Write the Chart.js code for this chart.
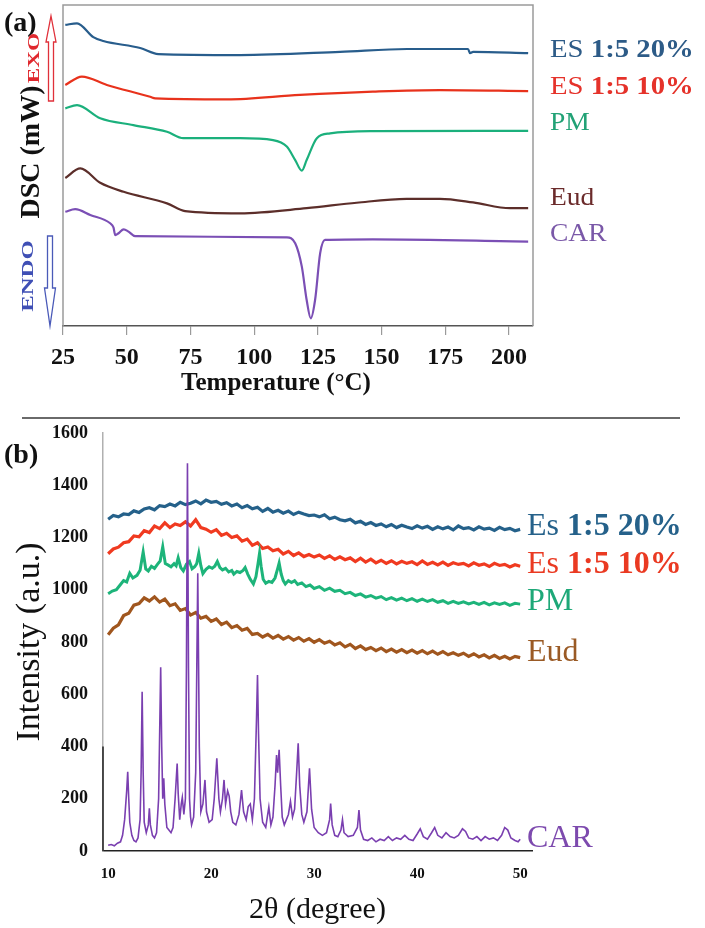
<!DOCTYPE html>
<html><head><meta charset="utf-8">
<script src="https://cdn.jsdelivr.net/npm/chart.js@4/dist/chart.umd.min.js"></script>
<style>
html,body{margin:0;padding:0;background:#fff;}
body{width:705px;height:928px;position:relative;overflow:hidden;font-family:'Liberation Serif','Times New Roman',serif;}
canvas{position:absolute;left:0;}
.t{position:absolute;white-space:nowrap;line-height:1;font-family:'Liberation Serif','Times New Roman',serif;}
.lab{transform-origin:left center;}
</style></head><body>
<canvas id="dsc" width="705" height="418" style="top:0"></canvas>
<canvas id="xrd" width="705" height="508" style="top:420px"></canvas>

<div class="t" style="left:4px;top:8px;font-size:28px;font-weight:bold;color:#111">(a)</div>
<div class="t" style="left:4px;top:440px;font-size:28px;font-weight:bold;color:#111">(b)</div>
<div class="t" style="left:30px;top:152px;font-size:28px;font-weight:bold;color:#111;transform:translate(-50%,-50%) rotate(-90deg)">DSC (mW)</div>
<div class="t" style="left:34px;top:58px;font-size:16px;font-weight:bold;color:#e0282e;transform:translate(-50%,-50%) rotate(-90deg) scaleX(1.45)">EXO</div>
<div class="t" style="left:28px;top:276px;font-size:16px;font-weight:bold;color:#3f4fb5;transform:translate(-50%,-50%) rotate(-90deg) scaleX(1.55)">ENDO</div>
<div class="t" style="left:276px;top:381px;font-size:25px;font-weight:bold;color:#111;transform:translate(-50%,-50%)">Temperature (°C)</div>

<div class="t lab" style="left:550px;top:36px;font-size:25px;color:#2d5b87;transform:scaleX(1.15)">ES <b>1:5 20%</b></div>
<div class="t lab" style="left:550px;top:73px;font-size:25px;color:#e5322a;transform:scaleX(1.15)">ES <b>1:5 10%</b></div>
<div class="t lab" style="left:550px;top:109px;font-size:25px;color:#22a276;transform:scaleX(1.1)">PM</div>
<div class="t lab" style="left:550px;top:184px;font-size:25px;color:#6b2b2b;transform:scaleX(1.1)">Eud</div>
<div class="t lab" style="left:550px;top:220px;font-size:25px;color:#7a58a8;transform:scaleX(1.1)">CAR</div>

<div style="position:absolute;left:22px;top:417px;width:658px;height:2px;background:#6a6a6a"></div>

<div class="t" style="left:527px;top:508px;font-size:32px;color:#25618a">Es <b>1:5 20%</b></div>
<div class="t" style="left:527px;top:546px;font-size:32px;color:#ea3a22">Es <b>1:5 10%</b></div>
<div class="t" style="left:527px;top:583px;font-size:32px;color:#1ea878">PM</div>
<div class="t" style="left:527px;top:634px;font-size:32px;color:#9a5a25">Eud</div>
<div class="t" style="left:527px;top:820px;font-size:32px;color:#7d4aae">CAR</div>

<script>
// ---------- (a) DSC data ----------
const DSC_TICKS = [25, 50, 75, 100, 125, 150, 175, 200];
const DSC_ES20_T = [25.9,30.5,36.9,40.8,55.3,62.4,94.5,133.7,160.0,183.9,184.7,185.9,207.5];
const DSC_ES20_V = [93.8,94.3,90.0,88.8,86.6,84.7,84.4,85.4,86.3,86.3,85.0,85.4,85.0];
const DSC_ES10_T = [25.9,32.4,42.2,59.2,61.2,89.3,118.0,146.6,172.9,207.5];
const DSC_ES10_V = [75.1,77.7,75.1,71.4,70.9,70.6,72.0,73.0,73.5,73.2];
const DSC_PM_T = [25.9,30.5,39.6,52.6,65.8,72.2,94.5,107.4,112.8,116.1,118.7,120.6,124.6,129.8,146.6,207.5];
const DSC_PM_V = [67.8,68.8,64.7,62.6,60.5,58.5,58.5,57.9,55.9,51.7,48.4,51.7,58.5,60.0,60.7,60.8];
const DSC_EUD_T = [25.9,31.8,39.6,48.8,65.8,72.9,94.5,120.6,140.2,159.8,172.9,185.9,200.4,207.5];
const DSC_EUD_V = [46.1,49.1,44.6,41.8,38.2,35.8,35.1,36.7,38.4,39.6,39.6,38.5,36.7,36.7];
const DSC_CAR_T = [25.9,29.8,35.7,43.5,44.8,45.5,46.8,48.8,50.7,53.3,112.8,116.1,118.7,120.6,122.2,123.9,125.9,127.8,146.6,207.5];
const DSC_CAR_V = [35.6,36.4,34.6,32.0,30.7,28.3,28.9,30.1,29.4,28.0,27.6,25.8,18.5,8.1,2.4,8.1,22.7,26.8,27.0,26.3];

// ---------- (b) XRD data ----------
const XRD_TICKS = [10, 20, 30, 40, 50];
const XRD_THETA = [10,10.5,11,11.5,12,12.5,13,13.5,14,14.5,15,15.5,16,16.5,17,17.5,18,18.5,19,19.5,
  20,20.5,21,21.5,22,22.5,23,23.5,24,24.5,25,25.5,26,26.5,27,27.5,28,28.5,29,29.5,
  30,30.5,31,31.5,32,32.5,33,33.5,34,34.5,35,35.5,36,36.5,37,37.5,38,38.5,39,39.5,
  40,40.5,41,41.5,42,42.5,43,43.5,44,44.5,45,45.5,46,46.5,47,47.5,48,48.5,49,49.5,50];
const XRD_ES20 = [1270,1284,1279,1290,1288,1302,1296,1309,1314,1306,1322,1318,1328,1321,1335,1326,1331,1340,1329,1343,
  1335,1338,1327,1333,1321,1328,1314,1322,1310,1316,1300,1311,1297,1304,1293,1301,1288,1297,1290,1284,
  1286,1279,1287,1272,1278,1268,1264,1270,1256,1262,1250,1257,1246,1252,1241,1250,1238,1247,1240,1234,
  1245,1236,1243,1231,1241,1233,1240,1229,1244,1234,1238,1229,1241,1232,1236,1227,1239,1230,1235,1226,1231];
const XRD_ES10 = [1138,1156,1163,1180,1184,1206,1203,1226,1219,1244,1234,1256,1238,1252,1246,1260,1244,1268,1238,1232,
  1220,1230,1208,1216,1200,1206,1186,1194,1170,1180,1158,1164,1149,1155,1137,1147,1131,1141,1127,1135,
  1125,1133,1120,1130,1116,1126,1115,1122,1108,1121,1106,1117,1103,1113,1101,1111,1099,1109,1101,1107,
  1096,1110,1097,1105,1095,1106,1093,1103,1097,1101,1091,1103,1094,1099,1089,1101,1093,1097,1087,1096,1090];
const XRD_EUD = [828,853,866,901,910,941,947,969,957,973,953,964,939,946,921,928,903,913,891,898,
  879,888,867,876,855,863,845,852,829,833,819,829,815,825,811,821,807,817,803,813,
  799,809,795,803,789,797,781,791,775,785,771,779,767,777,763,773,761,771,759,769,
  757,767,755,765,753,763,751,759,749,757,745,755,743,751,739,749,737,745,735,745,740];
const XRD_PM_THETA = [10,10.4,10.8,11.2,11.5,11.8,12.1,12.4,12.8,13.1,13.4,13.65,13.9,14.2,14.5,14.8,15.05,15.3,15.55,15.8,
  16.1,16.4,16.6,16.8,17.05,17.3,17.6,17.9,18.15,18.4,18.6,18.8,19.0,19.2,19.5,19.8,20.1,20.35,20.6,20.85,
  21.1,21.4,21.7,22.0,22.2,22.5,22.8,23.1,23.3,23.55,23.8,24.1,24.35,24.55,24.7,24.85,25.05,25.3,25.6,25.9,
  26.2,26.45,26.6,26.8,27.0,27.2,27.5,27.8,28.1,28.4,28.8,29.2,29.6,30.0,30.5,31.0,31.5,32.0,32.5,33.0,
  33.5,34.0,34.5,35.0,35.5,36.0,36.5,37.0,37.5,38.0,38.5,39.0,39.5,40.0,40.5,41.0,41.5,42.0,42.5,43.0,
  43.5,44.0,44.5,45.0,45.5,46.0,46.5,47.0,47.5,48.0,48.5,49.0,49.5,50.0];
const XRD_PM = [985,995,1000,1020,1035,1030,1063,1045,1055,1075,1145,1080,1072,1090,1082,1098,1110,1164,1100,1095,
  1088,1100,1092,1122,1085,1072,1098,1108,1080,1088,1100,1139,1092,1062,1078,1088,1082,1090,1108,1085,
  1076,1082,1068,1074,1060,1070,1066,1074,1085,1060,1040,1022,1050,1100,1140,1090,1040,1025,1032,1028,
  1045,1080,1102,1060,1035,1022,1035,1028,1035,1020,1026,1012,1018,1005,1012,998,1006,994,998,985,
  990,978,984,972,978,968,974,962,970,960,968,958,966,956,964,955,962,952,958,948,
  956,948,954,946,952,944,952,942,950,944,950,940,948,945];
const XRD_CAR_THETA = [10.0,10.3,10.6,10.9,11.2,11.4,11.6,11.8,11.9,12.0,12.1,12.3,12.5,12.7,12.9,13.1,13.2,13.3,13.4,13.5,
  13.7,13.9,14.0,14.1,14.3,14.5,14.7,14.9,15.0,15.1,15.2,15.3,15.4,15.5,15.7,15.9,16.1,16.3,16.5,16.7,
  16.8,16.95,17.1,17.2,17.35,17.5,17.6,17.7,17.8,17.9,18.0,18.1,18.3,18.5,18.7,18.85,19.0,19.2,19.4,19.55,
  19.8,20.1,20.3,20.55,20.75,20.9,21.1,21.25,21.4,21.6,21.75,21.9,22.1,22.4,22.7,22.95,23.15,23.4,23.6,23.8,
  24.0,24.2,24.4,24.5,24.6,24.75,25.0,25.3,25.6,25.8,26.0,26.2,26.35,26.45,26.6,26.75,26.9,27.1,27.5,27.7,
  27.9,28.1,28.3,28.45,28.6,28.8,29.0,29.3,29.55,29.75,30.0,30.4,30.8,31.2,31.5,31.6,31.75,32.0,32.3,32.6,
  32.75,32.9,33.3,33.8,34.2,34.35,34.5,34.8,35.2,35.6,36.0,36.4,36.8,37.2,37.6,38.0,38.4,38.8,39.2,39.6,
  40.0,40.3,40.6,41.0,41.4,41.7,42.0,42.4,42.8,43.2,43.6,44.0,44.4,44.7,45.0,45.4,45.8,46.2,46.6,47.0,
  47.4,47.8,48.2,48.5,48.8,49.1,49.5,49.8,50.0];
const XRD_CAR = [22,25,20,30,35,60,120,230,303,200,110,60,40,35,50,120,300,610,300,110,
  70,100,163,100,60,50,70,200,450,703,400,200,278,180,90,80,70,90,200,335,
  220,120,180,205,140,200,700,1484,700,200,130,100,130,300,1063,400,150,180,272,150,
  110,120,200,355,200,150,200,272,180,230,210,150,110,100,140,233,150,120,170,180,
  120,200,500,674,450,200,110,90,168,100,130,250,367,300,387,250,130,100,140,190,
  130,160,300,412,250,140,110,150,317,160,90,70,60,70,120,182,100,60,55,80,
  120,70,55,60,90,157,80,45,40,50,35,45,40,55,40,50,45,60,45,40,
  65,85,55,45,70,90,60,50,70,55,50,60,85,75,50,45,55,40,55,45,
  50,40,60,90,80,50,40,35,45];

const FONT = "'Liberation Serif','Times New Roman',serif";
function pts(xs, ys) { return xs.map((x, i) => ({ x: x, y: ys[i] })); }

// ---------- (a) chart ----------
const dscDecor = {
  id: 'dscDecor',
  afterDraw(chart) {
    const { ctx, chartArea: a } = chart;
    ctx.save();
    ctx.strokeStyle = '#9a9a9a';
    ctx.lineWidth = 1.5;
    ctx.beginPath();
    ctx.moveTo(a.left, a.bottom); ctx.lineTo(a.left, a.top); ctx.lineTo(a.right, a.top); ctx.lineTo(a.right, a.bottom);
    ctx.stroke();
    function arrow(cx, tip, base, end, sh, hh, col) {
      ctx.beginPath();
      ctx.moveTo(cx, tip);
      ctx.lineTo(cx + hh, base); ctx.lineTo(cx + sh, base); ctx.lineTo(cx + sh, end);
      ctx.lineTo(cx - sh, end); ctx.lineTo(cx - sh, base); ctx.lineTo(cx - hh, base);
      ctx.closePath();
      ctx.strokeStyle = col; ctx.lineWidth = 1.3; ctx.stroke();
    }
    arrow(51, 16, 42, 101, 2.5, 5, '#e0303a');
    arrow(50, 326, 288, 236, 2.5, 5.5, '#4a5ab8');
    ctx.restore();
  }
};

function dscSet(t, v, col) {
  return { data: pts(t, v), borderColor: col, borderWidth: 2.2, pointRadius: 0, fill: false, cubicInterpolationMode: 'monotone' };
}

new Chart(document.getElementById('dsc'), {
  type: 'line',
  data: {
    datasets: [
      dscSet(DSC_ES20_T, DSC_ES20_V, '#285d8c'),
      dscSet(DSC_ES10_T, DSC_ES10_V, '#e8321c'),
      dscSet(DSC_PM_T, DSC_PM_V, '#1bb07c'),
      dscSet(DSC_EUD_T, DSC_EUD_V, '#5c2e2a'),
      dscSet(DSC_CAR_T, DSC_CAR_V, '#7b4fb5')
    ]
  },
  options: {
    responsive: false, animation: false, devicePixelRatio: 1,
    layout: { padding: { left: 63, right: 172, top: 5, bottom: 0 } },
    plugins: { legend: { display: false }, tooltip: { enabled: false } },
    scales: {
      x: {
        type: 'linear', min: 25, max: 209.4,
        afterBuildTicks: s => { s.ticks = DSC_TICKS.map(v => ({ value: v })); },
        afterFit: s => { s.height = 92; },
        grid: { display: true, drawOnChartArea: false, drawTicks: true, tickLength: 9, color: '#9a9a9a', lineWidth: 1.2 },
        border: { display: true, color: '#555', width: 1.5 },
        ticks: { color: '#111', font: { family: FONT, size: 24, weight: 'bold' }, padding: 8, maxRotation: 0 }
      },
      y: { type: 'linear', min: 0, max: 100, display: false }
    }
  },
  plugins: [dscDecor]
});

// ---------- (b) chart ----------
const xrdDecor = {
  id: 'xrdDecor',
  afterDraw(chart) {
    const { ctx, chartArea: a, scales: { y } } = chart;
    ctx.save();
    ctx.strokeStyle = '#222';
    ctx.lineWidth = 1.5;
    ctx.beginPath();
    ctx.moveTo(a.left, y.getPixelForValue(400));
    ctx.lineTo(a.left, y.getPixelForValue(0));
    ctx.stroke();
    ctx.restore();
  }
};

function xrdSet(t, v, col, w, ord) {
  return { data: pts(t, v), borderColor: col, borderWidth: w, pointRadius: 0, fill: false, tension: 0, order: ord };
}

new Chart(document.getElementById('xrd'), {
  type: 'line',
  data: {
    datasets: [
      xrdSet(XRD_THETA, XRD_ES20, '#25618a', 3.2, 4),
      xrdSet(XRD_THETA, XRD_ES10, '#f03a20', 3.2, 3),
      xrdSet(XRD_PM_THETA, XRD_PM, '#1db47a', 3.0, 2),
      xrdSet(XRD_THETA, XRD_EUD, '#a0561e', 3.2, 1),
      xrdSet(XRD_CAR_THETA, XRD_CAR, '#7a3fb0', 1.6, 0)
    ]
  },
  options: {
    responsive: false, animation: false, devicePixelRatio: 1,
    layout: { padding: { left: 0, right: 173, top: 13, bottom: 0 } },
    plugins: { legend: { display: false }, tooltip: { enabled: false } },
    scales: {
      x: {
        type: 'linear', min: 9.5, max: 51.15,
        afterBuildTicks: s => { s.ticks = XRD_TICKS.map(v => ({ value: v })); },
        afterFit: s => { s.height = 77; s.paddingLeft = 0; s.paddingRight = 0; },
        grid: { display: false },
        border: { display: true, color: '#222', width: 1.5 },
        ticks: { color: '#111', font: { family: FONT, size: 15, weight: 'bold' }, padding: 6, maxRotation: 0 },
        title: { display: true, text: '2θ (degree)', color: '#111', font: { family: FONT, size: 30 }, padding: { top: 0, bottom: 0 } }
      },
      y: {
        type: 'linear', min: 0, max: 1600,
        ticks: { stepSize: 200, color: '#111', font: { family: FONT, size: 18, weight: 'bold' }, padding: 15, callback: v => String(v) },
        afterFit: s => { s.width = 103; s.paddingTop = 0; s.paddingBottom = 0; },
        grid: { display: false, drawTicks: false },
        border: { display: true, color: '#b0b0b0', width: 1.5 },
        title: { display: true, text: 'Intensity (a.u.)', color: '#111', font: { family: FONT, size: 34 }, padding: { top: 10, bottom: 0 } }
      }
    }
  },
  plugins: [xrdDecor]
});
</script>
</body></html>
